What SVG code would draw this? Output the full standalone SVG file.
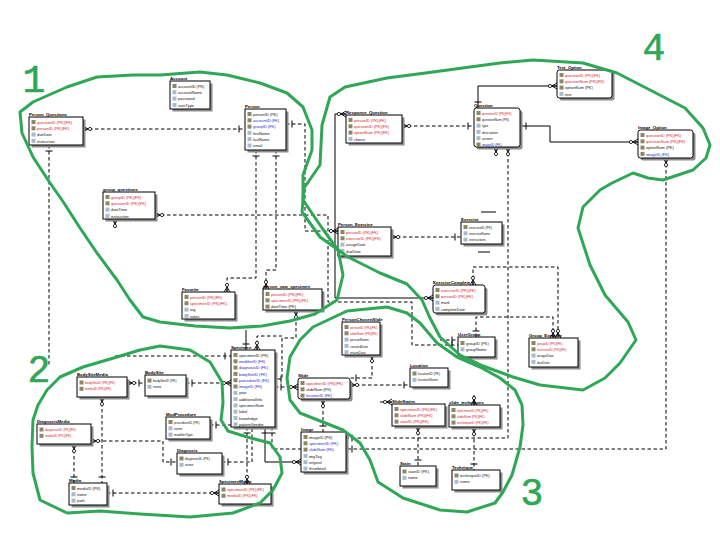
<svg xmlns="http://www.w3.org/2000/svg" width="720" height="540" viewBox="0 0 720 540">
<defs>
<style>
.bx{fill:#fff;stroke:#000;stroke-width:1}
.sh{fill:#8c8c8c}
.tt{font-family:"Liberation Sans",Arial,sans-serif;font-size:4.3px;font-weight:bold;fill:#000}
.r{font-family:"Liberation Sans",Arial,sans-serif;font-size:3.9px;fill:#111}
.sm .r{font-size:3.3px}
.pk{fill:#d3202c}
.fk{fill:#2326c8}
.ik{fill:#8e8766}
.ia{fill:#a9bccf}
.dl{fill:none;stroke:#000;stroke-width:1;stroke-dasharray:3.5 2.5}
.sl{fill:none;stroke:#000;stroke-width:1}
.gr{fill:none;stroke:#2fa757;stroke-width:3;stroke-linecap:round;stroke-linejoin:round}
.num{font-family:"Liberation Mono","Courier New",monospace;font-size:38px;fill:#2fa757;stroke:#2fa757;stroke-width:0.6;text-anchor:middle}
</style>
<marker id="one" markerUnits="userSpaceOnUse" orient="auto-start-reverse" viewBox="-10 -10 20 20" markerWidth="20" markerHeight="20" refX="0" refY="0" overflow="visible">
<path d="M-6,-3.5V3.5" stroke="#000" stroke-width="1" fill="none"/>
</marker>
<marker id="many" markerUnits="userSpaceOnUse" orient="auto-start-reverse" viewBox="-10 -10 20 20" markerWidth="20" markerHeight="20" refX="0" refY="0" overflow="visible">
<path d="M0,-3L-5,0L0,3M-5,0H0" stroke="#000" stroke-width="0.9" fill="none"/>
<circle cx="-7" cy="0" r="1.6" fill="#fff" stroke="#000" stroke-width="0.8"/>
</marker>
</defs>
<rect width="720" height="540" fill="#fff"/>

<g id="connectors">
<path class="dl" d="M83,129H245" marker-start="url(#many)" marker-end="url(#one)"/>
<path class="dl" d="M49,145V366" marker-start="url(#one)"/>
<path class="dl" d="M115,356H231" marker-end="url(#one)"/>
<path class="dl" d="M155,215H328V302H412V345H458" marker-start="url(#many)" marker-end="url(#one)"/>
<path class="dl" d="M115,219V228" marker-start="url(#many)"/>
<path class="dl" d="M286,124H305V231H338" marker-start="url(#one)" marker-end="url(#many)"/>
<path class="dl" d="M256,150V278H227V292" marker-start="url(#one)" marker-end="url(#many)"/>
<path class="dl" d="M276,150V270H266V289" marker-start="url(#one)" marker-end="url(#many)"/>
<path class="sl" d="M346,114H335V298H433" marker-start="url(#many)" marker-end="url(#many)"/>
<path class="dl" d="M402,126H474" marker-start="url(#many)" marker-end="url(#one)"/>
<path class="sl" d="M478,108V86H557" marker-start="url(#one)" marker-end="url(#many)"/>
<path class="sl" d="M520,126H550V142H638" marker-start="url(#one)" marker-end="url(#many)"/>
<path class="dl" d="M508,147V438H346" marker-start="url(#many)" marker-end="url(#one)"/>
<path class="dl" d="M496,147V156" marker-start="url(#many)"/>
<path class="dl" d="M666,158V449H346" marker-start="url(#many)" marker-end="url(#one)"/>
<path class="dl" d="M391,237H461" marker-start="url(#many)" marker-end="url(#one)"/>
<path class="sl" d="M481,212H496M478,252H490"/>
<path class="dl" d="M473,285V267H558V338" marker-start="url(#many)" marker-end="url(#many)"/>
<path class="dl" d="M476,337V317H553V338" marker-start="url(#one)" marker-end="url(#many)"/>
<path class="dl" d="M440,340H458" marker-end="url(#one)"/>
<path class="dl" d="M372,354V378H350" marker-start="url(#many)" marker-end="url(#one)"/>
<path class="dl" d="M350,385H410" marker-start="url(#many)" marker-end="url(#one)"/>
<path class="dl" d="M275,387H298" marker-start="url(#one)" marker-end="url(#many)"/>
<path class="dl" d="M296,310V338H282V379H275" marker-start="url(#many)" marker-end="url(#one)"/>
<path class="dl" d="M257,350V336H282" marker-start="url(#many)"/>
<path class="sl" d="M246,330V350" marker-end="url(#one)"/>
<path class="dl" d="M323,399V432" marker-start="url(#many)" marker-end="url(#one)"/>
<path class="dl" d="M418,426V466" marker-start="url(#many)" marker-end="url(#one)"/>
<path class="dl" d="M474,427V470" marker-start="url(#many)" marker-end="url(#one)"/>
<path class="sl" d="M380,402H392" marker-end="url(#many)"/>
<path class="sl" d="M474,395V405" marker-end="url(#many)"/>
<path class="sl" d="M265,427V462H301" marker-start="url(#one)" marker-end="url(#many)"/>
<path class="dl" d="M272,427V449H301" marker-start="url(#one)"/>
<path class="dl" d="M247,427V484" marker-start="url(#one)" marker-end="url(#many)"/>
<path class="dl" d="M222,462H252V427" marker-start="url(#one)"/>
<path class="dl" d="M210,425H231" marker-start="url(#one)"/>
<path class="dl" d="M186,383H231" marker-start="url(#one)" marker-end="url(#many)"/>
<path class="dl" d="M127,383H145" marker-start="url(#many)" marker-end="url(#one)"/>
<path class="dl" d="M102,397V483" marker-start="url(#many)" marker-end="url(#one)"/>
<path class="dl" d="M91,441H163V462H177" marker-start="url(#many)" marker-end="url(#one)"/>
<path class="dl" d="M74,444V483" marker-start="url(#many)" marker-end="url(#one)"/>
<path class="dl" d="M107,493H219" marker-start="url(#one)" marker-end="url(#many)"/>
</g>

<g id="Account" transform="translate(170,81)"><rect class="sh" x="2.5" y="2.5" width="40" height="28"/><rect class="bx" width="40" height="28"/><text class="tt" x="0" y="-1.5">Account</text>
<rect class="ik" x="2.5" y="3" width="4" height="4"/><text class="r" x="8" y="6.6">accountID (PK)</text>
<rect class="ia" x="2.5" y="9.3" width="4" height="4"/><text class="r" x="8" y="12.9">accountName</text>
<rect class="ia" x="2.5" y="15.6" width="4" height="4"/><text class="r" x="8" y="19.2">password</text>
<rect class="ia" x="2.5" y="21.9" width="4" height="4"/><text class="r" x="8" y="25.5">userType</text></g>

<g id="Person" transform="translate(245,109)"><rect class="sh" x="2.5" y="2.5" width="41" height="41"/><rect class="bx" width="41" height="41"/><text class="tt" x="0" y="-1.5">Person</text>
<rect class="ik" x="2.5" y="3" width="4" height="4"/><text class="r" x="8" y="6.6">personID (PK)</text>
<rect class="ik" x="2.5" y="9.3" width="4" height="4"/><text class="r fk" x="8" y="12.9">accountID (FK)</text>
<rect class="ik" x="2.5" y="15.6" width="4" height="4"/><text class="r fk" x="8" y="19.2">groupID (FK)</text>
<rect class="ia" x="2.5" y="21.9" width="4" height="4"/><text class="r" x="8" y="25.5">firstName</text>
<rect class="ia" x="2.5" y="28.2" width="4" height="4"/><text class="r" x="8" y="31.8">lastName</text>
<rect class="ia" x="2.5" y="34.5" width="4" height="4"/><text class="r" x="8" y="38.1">email</text></g>

<g id="Person_Questions" transform="translate(29,117)"><rect class="sh" x="2.5" y="2.5" width="54" height="28"/><rect class="bx" width="54" height="28"/><text class="tt" x="0" y="-1.5">Person_Questions</text>
<rect class="ik" x="2.5" y="3" width="4" height="4"/><text class="r pk" x="8" y="6.6">questionID (PK)(FK)</text>
<rect class="ik" x="2.5" y="9.3" width="4" height="4"/><text class="r pk" x="8" y="12.9">personID (PK)(FK)</text>
<rect class="ia" x="2.5" y="15.6" width="4" height="4"/><text class="r" x="8" y="19.2">dueDate</text>
<rect class="ia" x="2.5" y="21.9" width="4" height="4"/><text class="r" x="8" y="25.5">instruction</text></g>

<g id="group_questions" transform="translate(103,192)"><rect class="sh" x="2.5" y="2.5" width="52" height="27"/><rect class="bx" width="52" height="27"/><text class="tt" x="0" y="-1.5">group_questions</text>
<rect class="ik" x="2.5" y="3" width="4" height="4"/><text class="r pk" x="8" y="6.6">groupID (PK)(FK)</text>
<rect class="ik" x="2.5" y="9.3" width="4" height="4"/><text class="r pk" x="8" y="12.9">questionID (PK)(FK)</text>
<rect class="ia" x="2.5" y="15.6" width="4" height="4"/><text class="r" x="8" y="19.2">dateTime</text>
<rect class="ia" x="2.5" y="21.9" width="4" height="4"/><text class="r" x="8" y="25.5">instruction</text></g>

<g id="Favorite" transform="translate(182,292)"><rect class="sh" x="2.5" y="2.5" width="53" height="27"/><rect class="bx" width="53" height="27"/><text class="tt" x="0" y="-1.5">Favorite</text>
<rect class="ik" x="2.5" y="3" width="4" height="4"/><text class="r pk" x="8" y="6.6">personID (PK)(FK)</text>
<rect class="ik" x="2.5" y="9.3" width="4" height="4"/><text class="r pk" x="8" y="12.9">specimenID (PK)(FK)</text>
<rect class="ia" x="2.5" y="15.6" width="4" height="4"/><text class="r" x="8" y="19.2">tag</text>
<rect class="ia" x="2.5" y="21.9" width="4" height="4"/><text class="r" x="8" y="25.5">notes</text></g>

<g id="person_saw_specimen" transform="translate(263,289)"><rect class="sh" x="2.5" y="2.5" width="59" height="21"/><rect class="bx" width="59" height="21"/><text class="tt" x="0" y="-1.5">person_saw_specimen</text>
<rect class="ik" x="2.5" y="3" width="4" height="4"/><text class="r pk" x="8" y="6.6">personID (PK)(FK)</text>
<rect class="ik" x="2.5" y="9.3" width="4" height="4"/><text class="r pk" x="8" y="12.9">specimenID (PK)(FK)</text>
<rect class="ik" x="2.5" y="15.6" width="4" height="4"/><text class="r" x="8" y="19.2">dateTime (PK)</text></g>

<g id="Response_Question" transform="translate(346,115)"><rect class="sh" x="2.5" y="2.5" width="56" height="28"/><rect class="bx" width="56" height="28"/><text class="tt" x="0" y="-1.5">Response_Question</text>
<rect class="ik" x="2.5" y="3" width="4" height="4"/><text class="r pk" x="8" y="6.6">personID (PK)(FK)</text>
<rect class="ik" x="2.5" y="9.3" width="4" height="4"/><text class="r pk" x="8" y="12.9">questionID (PK)(FK)</text>
<rect class="ik" x="2.5" y="15.6" width="4" height="4"/><text class="r pk" x="8" y="19.2">optionNum (PK)(FK)</text>
<rect class="ia" x="2.5" y="21.9" width="4" height="4"/><text class="r" x="8" y="25.5">choice</text></g>

<g id="Question" class="sm" transform="translate(474,108)"><rect class="sh" x="2.5" y="2.5" width="46" height="39" rx="2.5"/><rect class="bx" width="46" height="39" rx="2.5"/><text class="tt" x="0" y="-1.5">Question</text>
<rect class="ik" x="2.5" y="3" width="4" height="4"/><text class="r pk" x="8" y="6.6">questionID (PK)(FK)</text>
<rect class="ik" x="2.5" y="9.3" width="4" height="4"/><text class="r" x="8" y="12.9">questionNum (PK)</text>
<rect class="ia" x="2.5" y="15.6" width="4" height="4"/><text class="r" x="8" y="19.2">type</text>
<rect class="ia" x="2.5" y="21.9" width="4" height="4"/><text class="r" x="8" y="25.5">description</text>
<rect class="ia" x="2.5" y="28.2" width="4" height="4"/><text class="r" x="8" y="31.8">answer</text>
<rect class="ik" x="2.5" y="34.5" width="4" height="4"/><text class="r fk" x="8" y="38.1">imageID (FK)</text></g>

<g id="Text_Option" transform="translate(557,70)"><rect class="sh" x="2.5" y="2.5" width="55" height="28" rx="2.5"/><rect class="bx" width="55" height="28" rx="2.5"/><text class="tt" x="0" y="-1.5">Text_Option</text>
<rect class="ik" x="2.5" y="3" width="4" height="4"/><text class="r pk" x="8" y="6.6">questionID (PK)(FK)</text>
<rect class="ik" x="2.5" y="9.3" width="4" height="4"/><text class="r pk" x="8" y="12.9">questionNum (PK)(FK)</text>
<rect class="ik" x="2.5" y="15.6" width="4" height="4"/><text class="r" x="8" y="19.2">optionNum (PK)</text>
<rect class="ia" x="2.5" y="21.9" width="4" height="4"/><text class="r" x="8" y="25.5">text</text></g>

<g id="Image_Option" transform="translate(638,130)"><rect class="sh" x="2.5" y="2.5" width="55" height="28" rx="2.5"/><rect class="bx" width="55" height="28" rx="2.5"/><text class="tt" x="0" y="-1.5">Image_Option</text>
<rect class="ik" x="2.5" y="3" width="4" height="4"/><text class="r pk" x="8" y="6.6">questionID (PK)(FK)</text>
<rect class="ik" x="2.5" y="9.3" width="4" height="4"/><text class="r pk" x="8" y="12.9">questionNum (PK)(FK)</text>
<rect class="ik" x="2.5" y="15.6" width="4" height="4"/><text class="r" x="8" y="19.2">optionNum (PK)</text>
<rect class="ik" x="2.5" y="21.9" width="4" height="4"/><text class="r fk" x="8" y="25.5">imageID (FK)</text></g>

<g id="Person_Exercise" transform="translate(338,227)"><rect class="sh" x="2.5" y="2.5" width="53" height="29"/><rect class="bx" width="53" height="29"/><text class="tt" x="0" y="-1.5">Person_Exercise</text>
<rect class="ik" x="2.5" y="3" width="4" height="4"/><text class="r pk" x="8" y="6.6">personID (PK)(FK)</text>
<rect class="ik" x="2.5" y="9.3" width="4" height="4"/><text class="r pk" x="8" y="12.9">exerciseID (PK)(FK)</text>
<rect class="ia" x="2.5" y="15.6" width="4" height="4"/><text class="r" x="8" y="19.2">assignDate</text>
<rect class="ia" x="2.5" y="21.9" width="4" height="4"/><text class="r" x="8" y="25.5">dueDate</text></g>

<g id="Exercise" class="sm" transform="translate(461,222)"><rect class="sh" x="2.5" y="2.5" width="41" height="22"/><rect class="bx" width="41" height="22"/><text class="tt" x="0" y="-1.5">Exercise</text>
<rect class="ik" x="2.5" y="3" width="4" height="4"/><text class="r" x="8" y="6.6">exerciseID (PK)</text>
<rect class="ia" x="2.5" y="9.3" width="4" height="4"/><text class="r" x="8" y="12.9">exerciseName</text>
<rect class="ia" x="2.5" y="15.6" width="4" height="4"/><text class="r" x="8" y="19.2">instructions</text></g>

<g id="ExerciseComplete" transform="translate(433,285)"><rect class="sh" x="2.5" y="2.5" width="52" height="28" rx="2.5"/><rect class="bx" width="52" height="28" rx="2.5"/><text class="tt" x="0" y="-1.5">ExerciseComplete</text>
<rect class="ik" x="2.5" y="3" width="4" height="4"/><text class="r pk" x="8" y="6.6">exerciseID (PK)(FK)</text>
<rect class="ik" x="2.5" y="9.3" width="4" height="4"/><text class="r pk" x="8" y="12.9">personID (PK)(FK)</text>
<rect class="ia" x="2.5" y="15.6" width="4" height="4"/><text class="r" x="8" y="19.2">mark</text>
<rect class="ia" x="2.5" y="21.9" width="4" height="4"/><text class="r" x="8" y="25.5">completeDate</text></g>

<g id="UserGroup" transform="translate(458,337)"><rect class="sh" x="2.5" y="2.5" width="37" height="20"/><rect class="bx" width="37" height="20"/><text class="tt" x="0" y="-1.5">UserGroup</text>
<rect class="ik" x="2.5" y="4" width="4" height="4"/><text class="r" x="8" y="7.6">groupID (PK)</text>
<rect class="ia" x="2.5" y="10.3" width="4" height="4"/><text class="r" x="8" y="13.9">groupName</text></g>

<g id="Group_Exercise" class="sm" transform="translate(529,338)"><rect class="sh" x="2.5" y="2.5" width="49" height="29"/><rect class="bx" width="49" height="29"/><text class="tt" x="0" y="-1.5">Group_Exercise</text>
<rect class="ik" x="2.5" y="3" width="4" height="4"/><text class="r pk" x="8" y="6.6">groupID (PK)(FK)</text>
<rect class="ik" x="2.5" y="9.3" width="4" height="4"/><text class="r pk" x="8" y="12.9">exerciseID (PK)(FK)</text>
<rect class="ia" x="2.5" y="15.6" width="4" height="4"/><text class="r" x="8" y="19.2">assignDate</text>
<rect class="ia" x="2.5" y="21.9" width="4" height="4"/><text class="r" x="8" y="25.5">dueDate</text></g>

<g id="PersonChosenSlide" class="sm" transform="translate(342,322)"><rect class="sh" x="2.5" y="2.5" width="38" height="33"/><rect class="bx" width="38" height="33"/><text class="tt" x="0" y="-1.5">PersonChosenSlide</text>
<rect class="ik" x="2.5" y="3" width="4" height="4"/><text class="r pk" x="8" y="6.6">personID (PK)(FK)</text>
<rect class="ik" x="2.5" y="9.3" width="4" height="4"/><text class="r pk" x="8" y="12.9">slideNum (PK)(FK)</text>
<rect class="ia" x="2.5" y="15.6" width="4" height="4"/><text class="r" x="8" y="19.2">personName</text>
<rect class="ia" x="2.5" y="21.9" width="4" height="4"/><text class="r" x="8" y="25.5">createdDate</text>
<rect class="ia" x="2.5" y="28.2" width="4" height="4"/><text class="r" x="8" y="31.8">returnDate</text></g>

<g id="Location" class="sm" transform="translate(410,368)"><rect class="sh" x="2.5" y="2.5" width="38" height="19"/><rect class="bx" width="38" height="19"/><text class="tt" x="0" y="-1.5">Location</text>
<rect class="ik" x="2.5" y="3.5" width="4" height="4"/><text class="r" x="8" y="7.1">locationID (PK)</text>
<rect class="ia" x="2.5" y="9.8" width="4" height="4"/><text class="r" x="8" y="13.4">locationName</text></g>

<g id="Slide" transform="translate(298,378)"><rect class="sh" x="2.5" y="2.5" width="52" height="21" rx="2.5"/><rect class="bx" width="52" height="21" rx="2.5"/><text class="tt" x="0" y="-1.5">Slide</text>
<rect class="ik" x="2.5" y="3" width="4" height="4"/><text class="r pk" x="8" y="6.6">specimenID (PK)(FK)</text>
<rect class="ik" x="2.5" y="9.3" width="4" height="4"/><text class="r" x="8" y="12.9">slideNum (PK)</text>
<rect class="ik" x="2.5" y="15.6" width="4" height="4"/><text class="r fk" x="8" y="19.2">locationID (FK)</text></g>

<g id="SlideStains" transform="translate(392,404)"><rect class="sh" x="2.5" y="2.5" width="53" height="22"/><rect class="bx" width="53" height="22"/><text class="tt" x="0" y="-1.5">SlideStains</text>
<rect class="ik" x="2.5" y="3" width="4" height="4"/><text class="r pk" x="8" y="6.6">specimenID (PK)(FK)</text>
<rect class="ik" x="2.5" y="9.3" width="4" height="4"/><text class="r pk" x="8" y="12.9">slideNum (PK)(FK)</text>
<rect class="ik" x="2.5" y="15.6" width="4" height="4"/><text class="r pk" x="8" y="19.2">stainID (PK)(FK)</text></g>

<g id="slide_techniques" class="sm" transform="translate(449,405)"><rect class="sh" x="2.5" y="2.5" width="51" height="22"/><rect class="bx" width="51" height="22"/><text class="tt" x="0" y="-1.5">slide_techniques</text>
<rect class="ik" x="2.5" y="3" width="4" height="4"/><text class="r pk" x="8" y="6.6">specimenID (PK)(FK)</text>
<rect class="ik" x="2.5" y="9.3" width="4" height="4"/><text class="r pk" x="8" y="12.9">slideNum (PK)(FK)</text>
<rect class="ik" x="2.5" y="15.6" width="4" height="4"/><text class="r pk" x="8" y="19.2">techniqueID (PK)(FK)</text></g>

<g id="Stain" transform="translate(400,466)"><rect class="sh" x="2.5" y="2.5" width="36" height="20"/><rect class="bx" width="36" height="20"/><text class="tt" x="0" y="-1.5">Stain</text>
<rect class="ik" x="2.5" y="3.5" width="4" height="4"/><text class="r" x="8" y="7.1">stainID (PK)</text>
<rect class="ia" x="2.5" y="9.8" width="4" height="4"/><text class="r" x="8" y="13.4">name</text></g>

<g id="Technique" transform="translate(452,470)"><rect class="sh" x="2.5" y="2.5" width="48" height="20"/><rect class="bx" width="48" height="20"/><text class="tt" x="0" y="-1.5">Technique</text>
<rect class="ik" x="2.5" y="3.5" width="4" height="4"/><text class="r" x="8" y="7.1">techniqueID (PK)</text>
<rect class="ia" x="2.5" y="9.8" width="4" height="4"/><text class="r" x="8" y="13.4">name</text></g>

<g id="Image" transform="translate(301,432)"><rect class="sh" x="2.5" y="2.5" width="45" height="40"/><rect class="bx" width="45" height="40"/><text class="tt" x="0" y="-1.5">Image</text>
<rect class="ik" x="2.5" y="3" width="4" height="4"/><text class="r" x="8" y="6.6">imageID (PK)</text>
<rect class="ik" x="2.5" y="9.3" width="4" height="4"/><text class="r fk" x="8" y="12.9">specimenID (FK)</text>
<rect class="ik" x="2.5" y="15.6" width="4" height="4"/><text class="r fk" x="8" y="19.2">slideNum (FK)</text>
<rect class="ia" x="2.5" y="21.9" width="4" height="4"/><text class="r" x="8" y="25.5">imgTag</text>
<rect class="ia" x="2.5" y="28.2" width="4" height="4"/><text class="r" x="8" y="31.8">original</text>
<rect class="ia" x="2.5" y="34.5" width="4" height="4"/><text class="r" x="8" y="38.1">thumbnail</text></g>

<g id="Specimen" transform="translate(231,350)"><rect class="sh" x="2.5" y="2.5" width="44" height="77"/><rect class="bx" width="44" height="77"/><text class="tt" x="0" y="-1.5">Specimen</text>
<rect class="ik" x="2.5" y="3" width="4" height="4"/><text class="r" x="8" y="6.6">specimenID (PK)</text>
<rect class="ik" x="2.5" y="9.3" width="4" height="4"/><text class="r fk" x="8" y="12.9">modifierID (FK)</text>
<rect class="ik" x="2.5" y="15.6" width="4" height="4"/><text class="r fk" x="8" y="19.2">diagnosisID (FK)</text>
<rect class="ik" x="2.5" y="21.9" width="4" height="4"/><text class="r fk" x="8" y="25.5">bodySiteID (FK)</text>
<rect class="ik" x="2.5" y="28.2" width="4" height="4"/><text class="r fk" x="8" y="31.8">procedureID (FK)</text>
<rect class="ik" x="2.5" y="34.5" width="4" height="4"/><text class="r fk" x="8" y="38.1">imageID (FK)</text>
<rect class="ia" x="2.5" y="40.8" width="4" height="4"/><text class="r" x="8" y="44.4">year</text>
<rect class="ia" x="2.5" y="47.1" width="4" height="4"/><text class="r" x="8" y="50.7">additionalInfo</text>
<rect class="ia" x="2.5" y="53.4" width="4" height="4"/><text class="r" x="8" y="57">specimenNum</text>
<rect class="ia" x="2.5" y="59.7" width="4" height="4"/><text class="r" x="8" y="63.3">label</text>
<rect class="ia" x="2.5" y="66" width="4" height="4"/><text class="r" x="8" y="69.6">knowledge</text>
<rect class="ia" x="2.5" y="72.3" width="4" height="4"/><text class="r" x="8" y="75.9">patientGender</text></g>

<g id="BodySite" class="sm" transform="translate(145,375)"><rect class="sh" x="2.5" y="2.5" width="41" height="21"/><rect class="bx" width="41" height="21"/><text class="tt" x="0" y="-1.5">BodySite</text>
<rect class="ik" x="2.5" y="3.5" width="4" height="4"/><text class="r" x="8" y="7.1">bodySiteID (PK)</text>
<rect class="ia" x="2.5" y="9.8" width="4" height="4"/><text class="r" x="8" y="13.4">name</text></g>

<g id="ModProcedure" class="sm" transform="translate(166,417)"><rect class="sh" x="2.5" y="2.5" width="44" height="22"/><rect class="bx" width="44" height="22"/><text class="tt" x="0" y="-1.5">ModProcedure</text>
<rect class="ik" x="2.5" y="3" width="4" height="4"/><text class="r" x="8" y="6.6">procedureID (PK)</text>
<rect class="ia" x="2.5" y="9.3" width="4" height="4"/><text class="r" x="8" y="12.9">name</text>
<rect class="ia" x="2.5" y="15.6" width="4" height="4"/><text class="r" x="8" y="19.2">modifierType</text></g>

<g id="Diagnosis" class="sm" transform="translate(177,453)"><rect class="sh" x="2.5" y="2.5" width="45" height="21"/><rect class="bx" width="45" height="21"/><text class="tt" x="0" y="-1.5">Diagnosis</text>
<rect class="ik" x="2.5" y="3.5" width="4" height="4"/><text class="r" x="8" y="7.1">diagnosisID (PK)</text>
<rect class="ia" x="2.5" y="9.8" width="4" height="4"/><text class="r" x="8" y="13.4">name</text></g>

<g id="SpecimenMedia" transform="translate(219,484)"><rect class="sh" x="2.5" y="2.5" width="52" height="20"/><rect class="bx" width="52" height="20"/><text class="tt" x="0" y="-1.5">SpecimenMedia</text>
<rect class="ik" x="2.5" y="3.5" width="4" height="4"/><text class="r pk" x="8" y="7.1">specimenID (PK)(FK)</text>
<rect class="ik" x="2.5" y="9.8" width="4" height="4"/><text class="r pk" x="8" y="13.4">mediaID (PK)(FK)</text></g>

<g id="BodySiteMedia" class="sm" transform="translate(77,377)"><rect class="sh" x="2.5" y="2.5" width="50" height="20"/><rect class="bx" width="50" height="20"/><text class="tt" x="0" y="-1.5">BodySiteMedia</text>
<rect class="ik" x="2.5" y="3.5" width="4" height="4"/><text class="r pk" x="8" y="7.1">bodySiteID (PK)(FK)</text>
<rect class="ik" x="2.5" y="9.8" width="4" height="4"/><text class="r pk" x="8" y="13.4">mediaID (PK)(FK)</text></g>

<g id="DiagnosisMedia" class="sm" transform="translate(37,424)"><rect class="sh" x="2.5" y="2.5" width="54" height="20"/><rect class="bx" width="54" height="20"/><text class="tt" x="0" y="-1.5">DiagnosisMedia</text>
<rect class="ik" x="2.5" y="3.5" width="4" height="4"/><text class="r pk" x="8" y="7.1">diagnosisID (PK)(FK)</text>
<rect class="ik" x="2.5" y="9.8" width="4" height="4"/><text class="r pk" x="8" y="13.4">mediaID (PK)(FK)</text></g>

<g id="Media" transform="translate(69,483)"><rect class="sh" x="2.5" y="2.5" width="38" height="22"/><rect class="bx" width="38" height="22"/><text class="tt" x="0" y="-1.5">Media</text>
<rect class="ik" x="2.5" y="3" width="4" height="4"/><text class="r" x="8" y="6.6">mediaID (PK)</text>
<rect class="ia" x="2.5" y="9.3" width="4" height="4"/><text class="r" x="8" y="12.9">name</text>
<rect class="ia" x="2.5" y="15.6" width="4" height="4"/><text class="r" x="8" y="19.2">path</text></g>

<g id="regions">
<path class="gr" d="M50,183 L33,157 L22,133 L20,112 L33,102 L67,87 L97,77 L133,75 L160,75 L200,72 L227,75 L260,83 L287,93 L303,107 L312,130 L312,150 L303,175 L303,200 L322,228 L338,250 L343,275 L337,300 L315,314 L290,321 L262,326 L230,328 L195,326 L160,322 L143,317 L130,300 L117,280 L97,253 L80,228 L62,200 Z"/>
<path class="gr" d="M330,97 L322,125 L320,165 L304,188 L302,212 L320,237 L348,257 L380,273 L407,284 L422,300 L430,318 L440,337 L460,355 L483,366 L513,377 L540,385 L583,390 L605,378 L620,363 L636,340 L628,322 L605,295 L590,265 L578,228 L583,207 L600,190 L612,183 L633,173 L648,178 L663,180 L693,170 L706,158 L710,145 L703,128 L685,108 L650,90 L617,73 L583,63 L533,60 L500,63 L470,67 L433,72 L387,78 L345,87 Z"/>
<path class="gr" d="M290,400 L287,378 L290,357 L300,340 L313,327 L347,311 L387,307 L407,313 L420,323 L437,343 L457,357 L480,367 L500,378 L515,390 L522,405 L523,425 L520,447 L512,475 L503,492 L495,503 L467,512 L440,510 L403,498 L378,482 L370,460 L360,443 L343,430 L300,413 Z"/>
<path class="gr" d="M47,390 L60,377 L83,367 L117,357 L140,350 L160,346 L190,350 L210,362 L222,382 L223,403 L221,420 L228,431 L247,437 L270,443 L280,457 L282,473 L273,490 L260,503 L233,513 L190,517 L140,514 L100,511 L67,513 L40,500 L33,473 L32,447 L33,420 L38,405 Z"/>
<text class="num" x="34" y="92">1</text>
<text class="num" x="39" y="382">2</text>
<text class="num" x="532" y="505">3</text>
<text class="num" x="654" y="60">4</text>
</g>
</svg>
